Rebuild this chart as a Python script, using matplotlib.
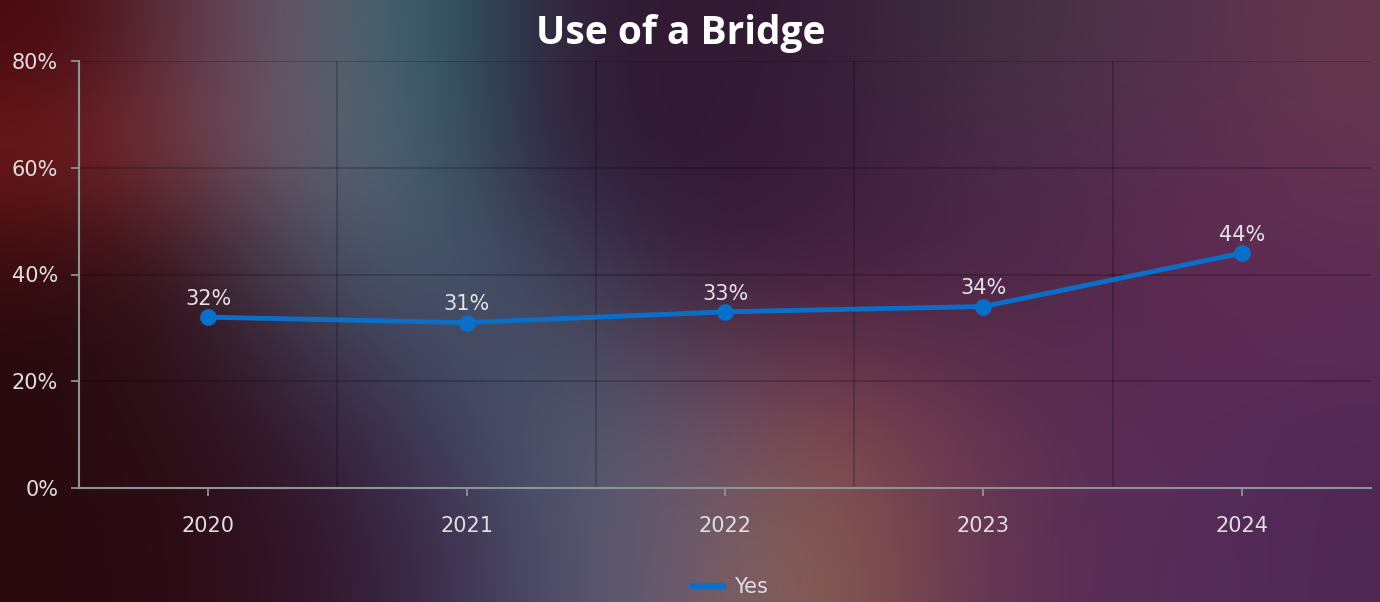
import numpy as np
import matplotlib.pyplot as plt
from matplotlib.ticker import FuncFormatter
from matplotlib.lines import Line2D

years = ['2020', '2021', '2022', '2023', '2024']
yes_share = [32, 31, 33, 34, 44]
title = 'Use of a Bridge'

# coarse colour grid for the blurred backdrop (rows top -> bottom, 11 columns)
bg_rows = [
    [(72, 10, 15), (95, 55, 72), (100, 95, 110), (45, 95, 105), (50, 30, 55), (50, 25, 50), (52, 28, 55), (62, 45, 62), (72, 50, 68), (86, 50, 78), (100, 55, 75)],
    [(115, 25, 25), (118, 60, 75), (100, 100, 115), (60, 95, 110), (45, 30, 55), (50, 25, 55), (55, 28, 58), (70, 38, 68), (78, 45, 75), (90, 45, 80), (100, 52, 80)],
    [(60, 12, 16), (60, 28, 38), (78, 80, 98), (70, 90, 110), (60, 60, 85), (55, 28, 55), (62, 30, 62), (75, 38, 70), (80, 40, 75), (95, 42, 80), (95, 45, 85)],
    [(40, 10, 15), (48, 18, 28), (60, 50, 75), (68, 75, 100), (70, 80, 102), (85, 60, 85), (100, 50, 70), (90, 45, 75), (85, 42, 78), (92, 42, 84), (90, 44, 86)],
    [(40, 10, 15), (45, 14, 22), (52, 28, 52), (62, 60, 90), (80, 90, 110), (100, 85, 105), (132, 78, 80), (112, 60, 80), (90, 45, 82), (88, 44, 88), (82, 40, 86)],
    [(40, 10, 15), (45, 12, 20), (50, 22, 42), (60, 45, 78), (80, 85, 110), (110, 92, 110), (140, 95, 80), (108, 60, 80), (90, 45, 85), (85, 45, 90), (80, 40, 85)],
]
bg = np.array(bg_rows, dtype=float) / 255.0

fig = plt.figure(figsize=(13.8, 6.02), dpi=100)

bg_ax = fig.add_axes([0, 0, 1, 1], zorder=0)
bg_ax.imshow(bg, extent=[0, 1, 0, 1], aspect='auto', interpolation='bicubic')
bg_ax.axis('off')

ax = fig.add_axes([79 / 1380, 114 / 602, 1292 / 1380, 427 / 602], zorder=1)
ax.patch.set_alpha(0)

x = np.arange(len(years))
ax.plot(x, yes_share, color='#0a6fc8', lw=3.5, marker='o', ms=11, zorder=3)

for xi, v in zip(x, yes_share):
    ax.annotate(f'{v}%', (xi, v), xytext=(0, 6), textcoords='offset points',
                ha='center', va='bottom', color='#e4e2e8', fontsize=15, family='DejaVu Sans')

ax.set_xlim(-0.5, len(years) - 0.5)
ax.set_ylim(0, 80)
ax.set_xticks(x)
ax.set_xticklabels(years)
ax.set_yticks([0, 20, 40, 60, 80])
ax.yaxis.set_major_formatter(FuncFormatter(lambda v, _: f'{v:.0f}%'))

ax.set_xticks(x[:-1] + 0.5, minor=True)
ax.grid(axis='y', which='major', color='black', alpha=0.22, lw=1.3)
ax.grid(axis='x', which='minor', color='black', alpha=0.22, lw=1.3)
ax.tick_params(axis='x', which='minor', length=0)

for side in ['top', 'right']:
    ax.spines[side].set_visible(False)
for side in ['left', 'bottom']:
    ax.spines[side].set_color('#8a9494')
    ax.spines[side].set_linewidth(1.5)

ax.tick_params(axis='both', which='major', colors='#8a9494', width=1.3, length=6,
               labelcolor='#e0dee2', labelsize=15)
ax.tick_params(axis='y', pad=9)
ax.tick_params(axis='x', pad=14)
for lab in ax.get_xticklabels() + ax.get_yticklabels():
    lab.set_family('DejaVu Sans')

fig.text(0.493, 0.945, title, ha='center', va='center', color='white',
         fontsize=28, fontweight='bold', family='Open Sans')

handle = Line2D([], [], color='#0a6fc8', lw=4.5)
leg = fig.legend([handle], ['Yes'], loc='center', bbox_to_anchor=(0.529, 0.025), frameon=False,
                 handlelength=1.5, handletextpad=0.5, prop={'family': 'DejaVu Sans', 'size': 15})
for t in leg.get_texts():
    t.set_color('#e0dee2')

fig.savefig('out.png', dpi=100)
